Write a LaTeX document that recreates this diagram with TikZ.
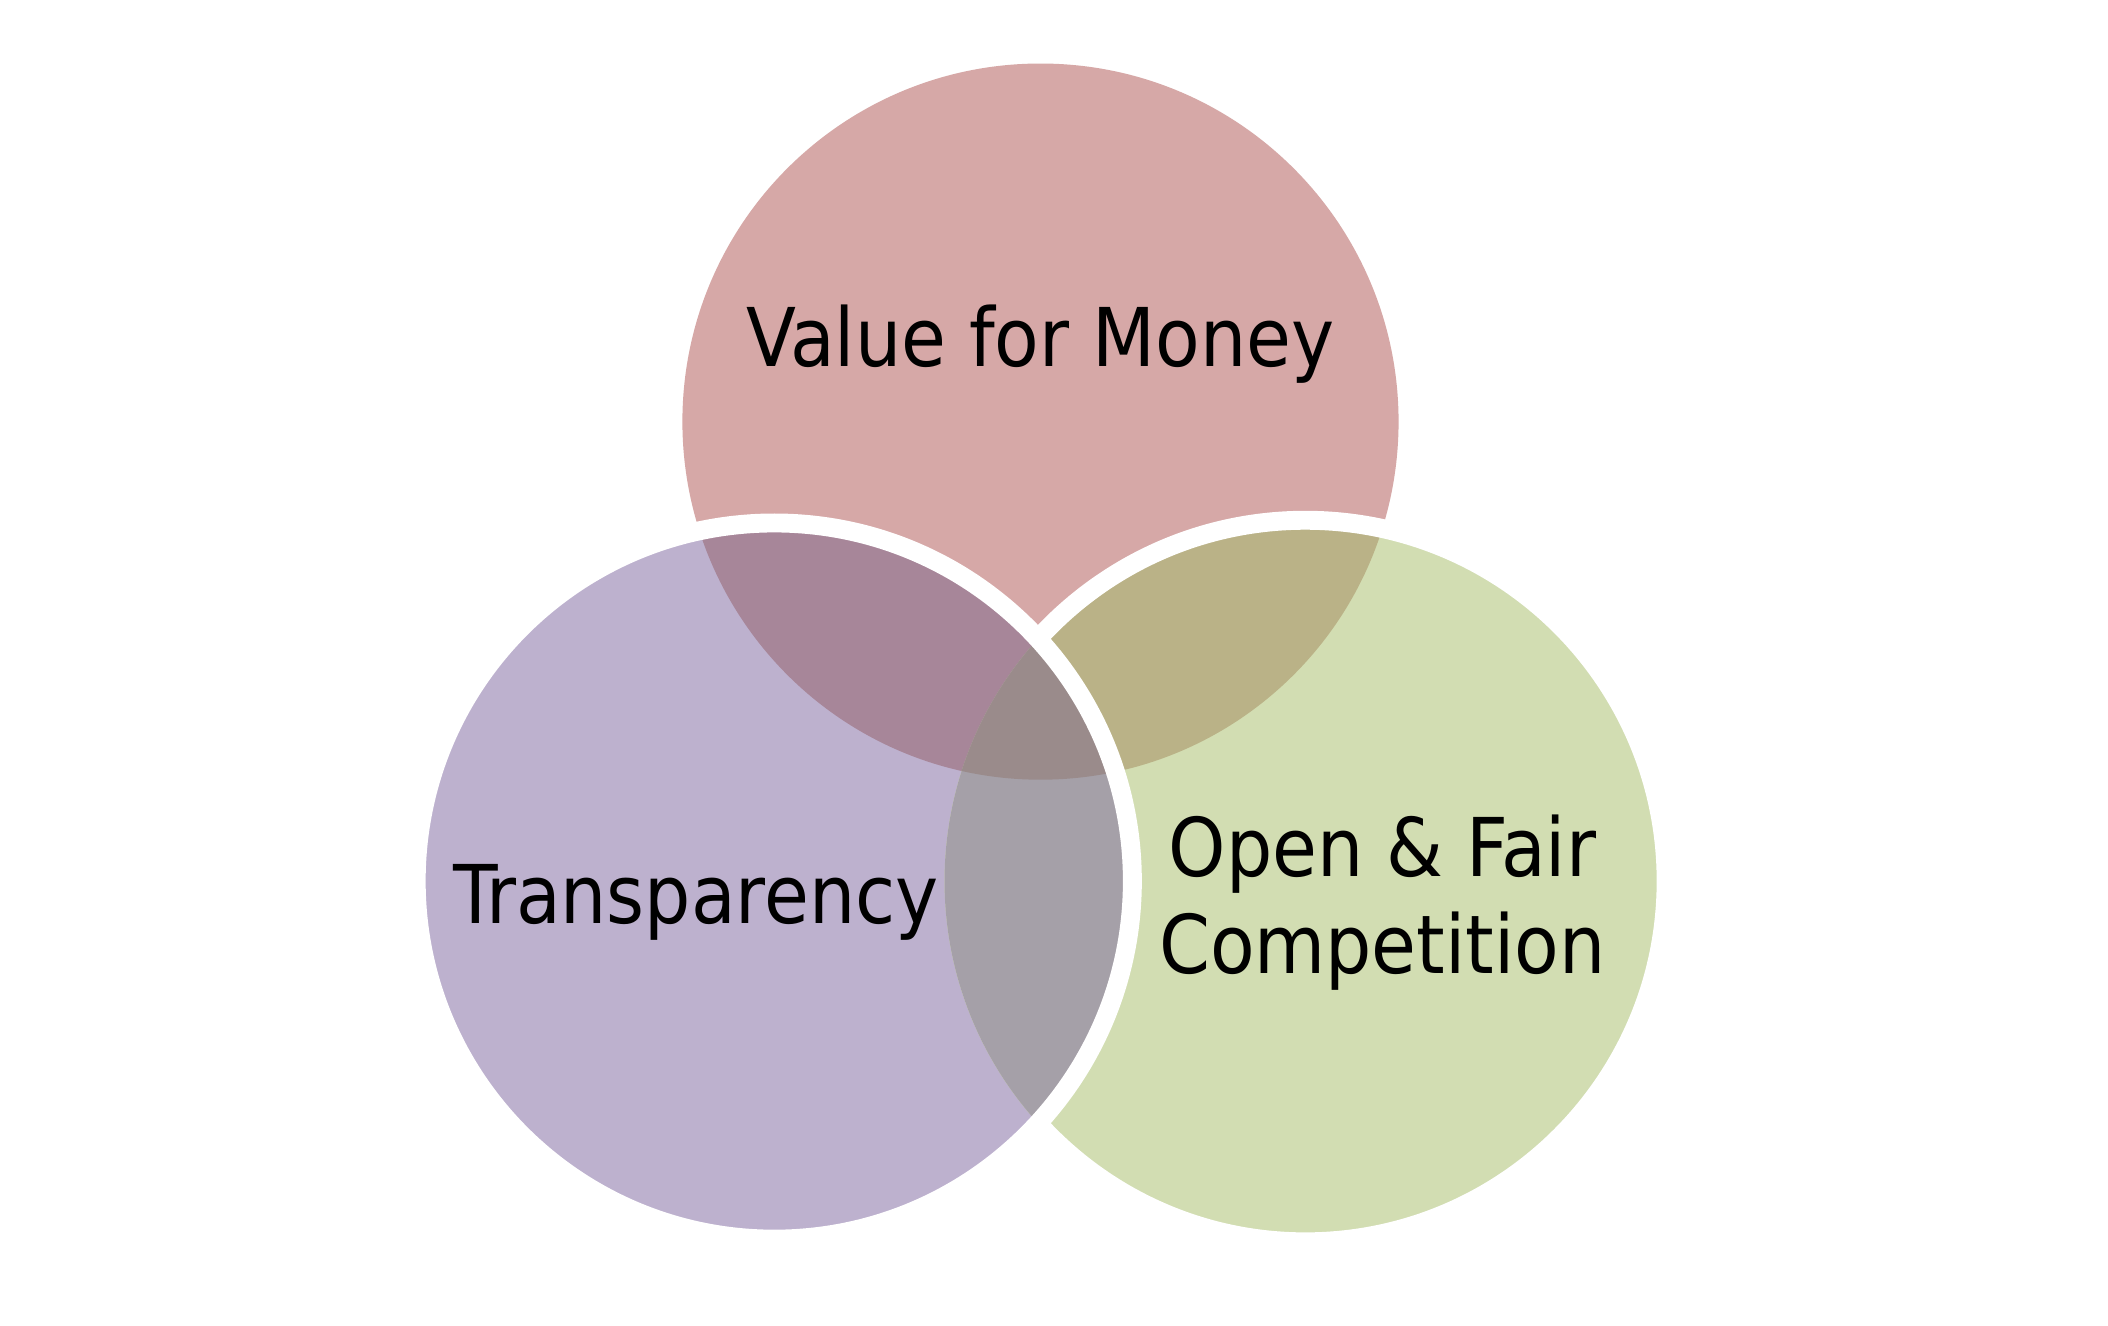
\documentclass[tikz,border=0pt]{standalone}
\usepackage{fontspec}
\setmainfont{DejaVu Sans Condensed}
\definecolor{cT}{HTML}{D6A8A7}
\definecolor{cL}{HTML}{BDB1CE}
\definecolor{cR}{HTML}{D2DDB2}
\definecolor{cTL}{HTML}{A78699}
\definecolor{cTR}{HTML}{BAB287}
\definecolor{cLR}{HTML}{A5A0A8}
\definecolor{cC}{HTML}{9A8B8B}
\tikzset{lbl/.style={font=\fontsize{30}{36}\selectfont, align=center, text=black}}
\begin{document}
\begin{tikzpicture}[x=0.5pt,y=-0.5pt]
\useasboundingbox[fill=white] (0,0) rectangle (1560,981);
\def\T{(770,312) circle[radius=265]}
\def\L{(573,652) circle[radius=265]}
\def\R{(966,652) circle[radius=267]}
\fill[cT] \T; \fill[cL] \L; \fill[cR] \R;
\begin{scope}\clip \T; \fill[cTL] \L; \fill[cTR] \R; \end{scope}
\begin{scope}\clip \L; \fill[cLR] \R; \end{scope}
\begin{scope}\clip \T; \clip \L; \fill[cC] \R; \end{scope}
\begin{scope}[even odd rule]
  \clip (0,0) rectangle (1560,981) \L;
  \draw[white, line width=7] \R;
\end{scope}
\draw[white, line width=7] \L;
\node[lbl] (vfm) at (770,255) {Value for Money};
\node[lbl] (tr) at (515,668) {Transparency};
\node[lbl] (ofc) at (1023,668) {Open \& Fair\\Competition};
\end{tikzpicture}
\end{document}
